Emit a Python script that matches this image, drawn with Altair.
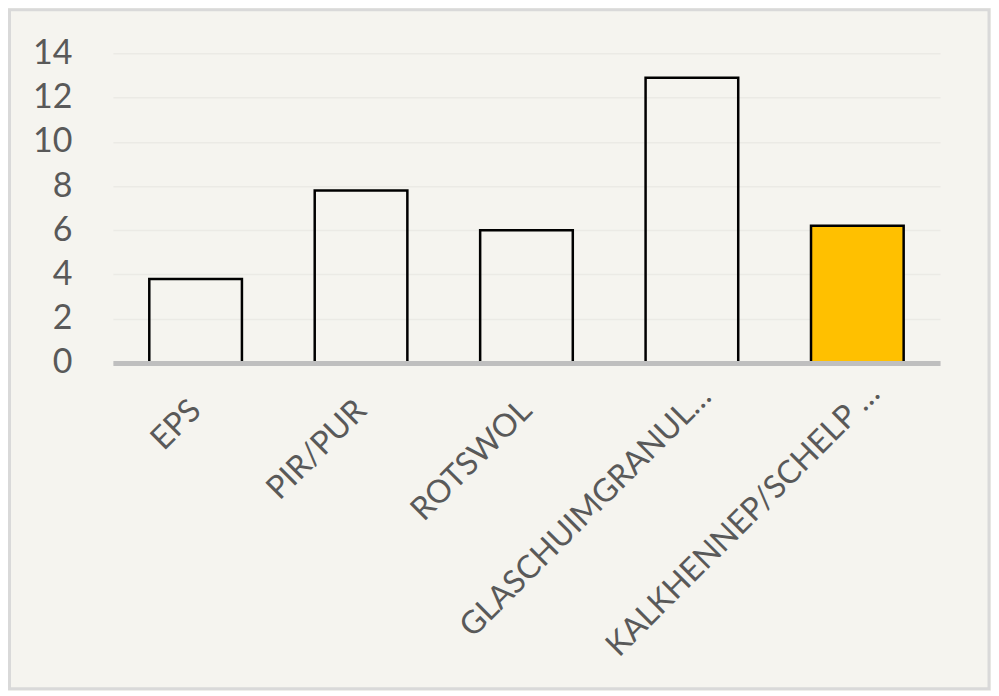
import altair as alt
import pandas as pd

categories = ["EPS", "PIR/PUR", "ROTSWOL", "GLASCHUIMGRANUL…", "KALKHENNEP/SCHELP …"]
values = [3.8, 7.8, 6.0, 12.9, 6.2]
fills = ["transparent", "transparent", "transparent", "transparent", "#FFC000"]
y_ticks = [0, 2, 4, 6, 8, 10, 12, 14]

BG = "#F5F4EF"
W, H = 828, 310

df = pd.DataFrame({"cat": categories, "val": values, "fill": fills})

is_glas = f"datum.value == '{categories[3]}'"
is_kalk = f"datum.value == '{categories[4]}'"

label_offset = {"condition": [{"test": is_glas, "value": 14},
                              {"test": is_kalk, "value": 17}], "value": 0}
label_padding = {"condition": [{"test": is_glas, "value": 28},
                               {"test": is_kalk, "value": 25}], "value": 42}

bars = alt.Chart(df).mark_bar(stroke="black", strokeWidth=2.5).encode(
    x=alt.X("cat:N", sort=categories,
            scale=alt.Scale(paddingInner=0.44, paddingOuter=0.22),
            axis=alt.Axis(title=None, labelAngle=-45, labelAlign="right",
                          labelBaseline="middle", labelPadding=label_padding,
                          labelOffset=label_offset, ticks=False,
                          domainColor="#BFBFBF", domainWidth=5, grid=False,
                          labelFont="Lato", labelFontSize=32, labelColor="#595959",
                          labelLimit=0, zindex=1)),
    y=alt.Y("val:Q", scale=alt.Scale(domain=[0, 14], nice=False),
            axis=alt.Axis(title=None, values=y_ticks, ticks=False, domain=False,
                          labelPadding=41, labelFont="Lato", labelFontSize=34,
                          labelColor="#595959", gridColor="#EBEAE5", gridWidth=1.5)),
    fill=alt.Fill("fill:N", scale=None),
)

border = alt.Chart(pd.DataFrame({"a": [0]})).mark_rect(
    fill="transparent", stroke="#D9D9D9", strokeWidth=3, clip=False
).encode(
    x=alt.value(-103.5), x2=alt.value(877),
    y=alt.value(-43.5), y2=alt.value(636),
)

chart = alt.layer(bars, border).properties(
    width=W, height=H, background=BG,
    padding={"left": 105, "top": 45, "right": 51, "bottom": 328},
    autosize=alt.AutoSizeParams(type="none"),
).configure_view(stroke=None)

chart.save("out.html", embed_options={"renderer": "svg", "actions": False})
